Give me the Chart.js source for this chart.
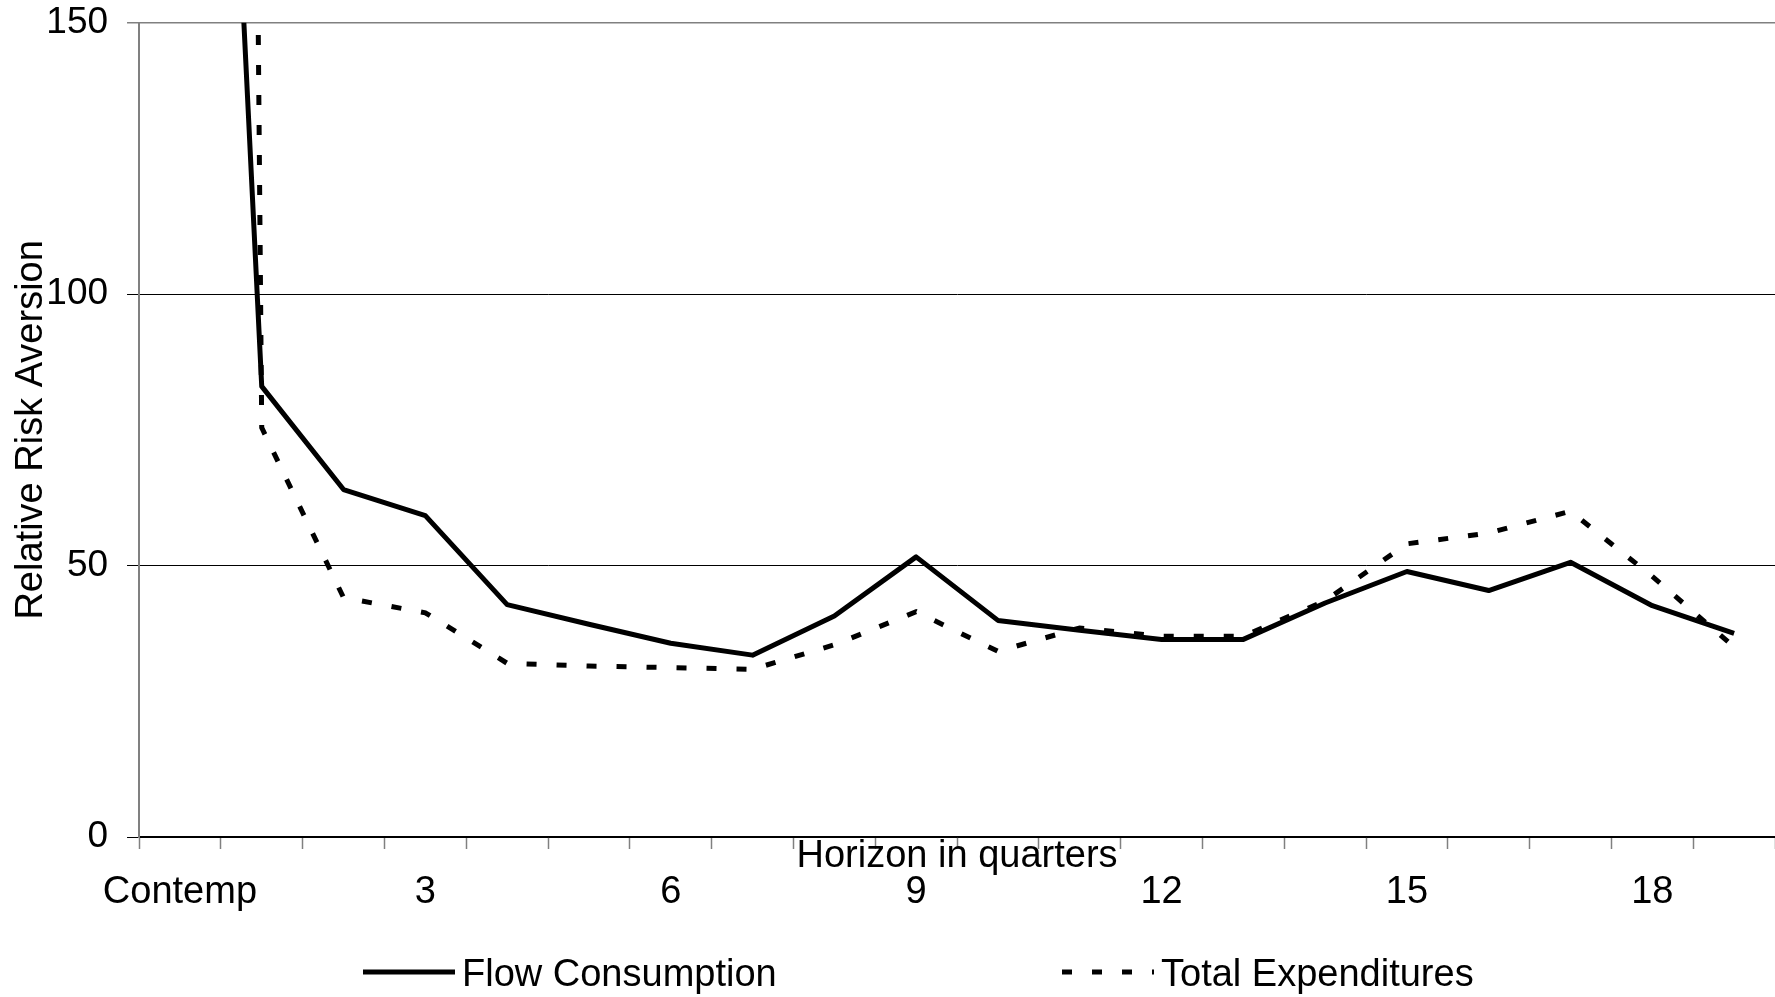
<!DOCTYPE html>
<html>
<head>
<meta charset="utf-8">
<script src="https://cdn.jsdelivr.net/npm/chart.js@4"></script>
<style>
  html, body { margin: 0; padding: 0; background: #fff; overflow: hidden; }
  #wrap { position: relative; width: 1775px; height: 997px; }
  #chart { position: absolute; left: 0; top: 0; }
  #legend { position: absolute; left: 0; top: 0; width: 1775px; height: 997px; pointer-events: none; }
  .item { position: absolute; top: 953px; height: 40px; display: flex; align-items: center;
          font-family: 'Liberation Sans', Arial, sans-serif; font-size: 38px; color: #000; white-space: nowrap; }
  .item svg { display: block; margin-right: 7px; }
</style>
</head>
<body>
<div id="wrap">
  <canvas id="chart" width="1775" height="997"></canvas>
  <div id="legend"></div>
</div>
<script>
// Horizons: contemporaneous, then 1..19 quarters ahead
const horizons = ['Contemp', '1', '2', '3', '4', '5', '6', '7', '8', '9',
                  '10', '11', '12', '13', '14', '15', '16', '17', '18', '19'];
// Horizon labels printed under the axis
const shownHorizonLabels = ['Contemp', '3', '6', '9', '12', '15', '18'];
// Relative risk aversion estimates by horizon
const flowConsumption   = [390, 83, 64, 59.2, 42.8, 39.2, 35.7, 33.5, 40.7, 51.6,
                           39.9, 38.1, 36.4, 36.4, 43.1, 48.9, 45.4, 50.6, 42.6, 37.5];
const totalExpenditures = [1800, 75.4, 44.1, 41.3, 32.0, 31.5, 31.2, 30.9, 35.4, 41.5,
                           34.2, 38.5, 37.0, 37.0, 43.5, 54.0, 56.0, 60.0, 48.0, 35.0];
// Value axis ticks
const yTicks = [0, 50, 100, 150];

const FONT = "'Liberation Sans', Arial, sans-serif";
Chart.defaults.font.family = FONT;
Chart.defaults.font.size = 38;
Chart.defaults.color = '#000';

// Builds the legend below the plot as HTML, from the datasets themselves
const legendLefts = [363, 1062];
const htmlLegend = {
  id: 'htmlLegend',
  afterUpdate(chart) {
    const box = document.getElementById('legend');
    box.innerHTML = '';
    chart.data.datasets.forEach((ds, i) => {
      const item = document.createElement('div');
      item.className = 'item';
      item.style.left = legendLefts[i] + 'px';
      const ns = 'http://www.w3.org/2000/svg';
      const svg = document.createElementNS(ns, 'svg');
      svg.setAttribute('width', '92');
      svg.setAttribute('height', '40');
      const line = document.createElementNS(ns, 'line');
      line.setAttribute('x1', '0'); line.setAttribute('x2', '92');
      line.setAttribute('y1', '19'); line.setAttribute('y2', '19');
      line.setAttribute('stroke', ds.borderColor);
      line.setAttribute('stroke-width', ds.borderWidth);
      if (ds.borderDash && ds.borderDash.length) {
        line.setAttribute('stroke-dasharray', ds.borderDash.join(' '));
      }
      svg.appendChild(line);
      const label = document.createElement('span');
      label.textContent = ds.label;
      item.appendChild(svg);
      item.appendChild(label);
      box.appendChild(item);
    });
  }
};

new Chart(document.getElementById('chart'), {
  type: 'line',
  data: {
    labels: horizons,
    datasets: [
      {
        label: 'Flow Consumption',
        data: flowConsumption,
        borderColor: '#000',
        borderWidth: 5,
        borderJoinStyle: 'round',
        pointRadius: 0,
        tension: 0,
        clip: 0
      },
      {
        label: 'Total Expenditures',
        data: totalExpenditures,
        borderColor: '#000',
        borderWidth: 5,
        borderDash: [10, 20],
        borderCapStyle: 'butt',
        pointRadius: 0,
        tension: 0,
        clip: 0
      }
    ]
  },
  options: {
    responsive: false,
    animation: false,
    devicePixelRatio: 1,
    layout: { padding: { top: 22.6, bottom: 77, left: 0, right: 0 } },
    plugins: {
      legend: { display: false },
      tooltip: { enabled: false }
    },
    scales: {
      x: {
        type: 'category',
        offset: true,
        grid: {
          offset: true,
          drawOnChartArea: false,
          drawTicks: true,
          tickLength: 12,
          tickColor: '#808080',
          tickWidth: 1.5
        },
        border: { color: '#000', width: 1.5 },
        ticks: {
          autoSkip: false,
          maxRotation: 0,
          minRotation: 0,
          padding: 21,
          font: { size: 38, lineHeight: 1.2 },
          callback: (v, i) => shownHorizonLabels.includes(horizons[i]) ? horizons[i] : ''
        },
        title: {
          display: true,
          text: 'Horizon in quarters',
          font: { size: 38, lineHeight: 1.2 },
          padding: { top: -102.4, bottom: 40.2 }
        }
      },
      y: {
        min: 0,
        max: 150,
        afterBuildTicks: (scale) => { scale.ticks = yTicks.map(v => ({ value: v })); },
        ticks: {
          padding: 19,
          font: { size: 37, lineHeight: 0.2 }
        },
        grid: {
          color: (ctx) => (ctx.tick && ctx.tick.value === 150) ? '#808080' : '#000',
          lineWidth: (ctx) => (ctx.tick && ctx.tick.value === 150) ? 1.5 : 1,
          drawTicks: true,
          tickLength: 12
        },
        border: { color: '#808080', width: 2 },
        title: {
          display: true,
          text: 'Relative Risk Aversion',
          font: { size: 38, lineHeight: 1.2 },
          padding: { top: 8.5, bottom: -26.8 }
        }
      }
    }
  },
  plugins: [htmlLegend]
});
</script>
</body>
</html>
